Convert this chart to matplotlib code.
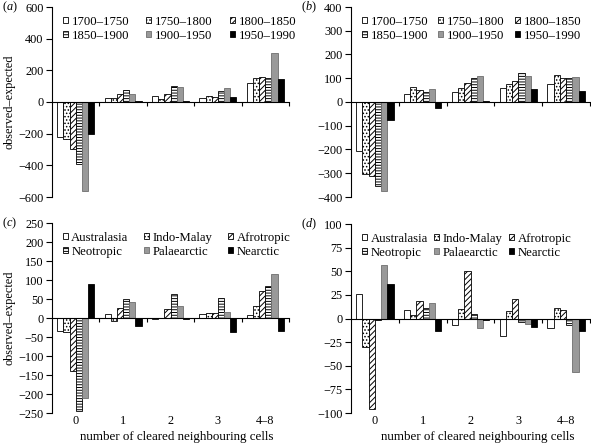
import numpy as np
import matplotlib
matplotlib.use('Agg')
from matplotlib import pyplot as plt

plt.rcParams['font.family'] = ['Liberation Serif', 'DejaVu Serif']
plt.rcParams['font.size'] = 8.8
plt.rcParams['hatch.linewidth'] = 0.7
plt.rcParams['mathtext.fontset'] = 'custom'
plt.rcParams['mathtext.rm'] = 'Liberation Serif'
plt.rcParams['mathtext.it'] = 'Liberation Serif:italic'

groups = ['0', '1', '2', '3', '4–8']
periods = ['1700–1750', '1750–1800', '1800–1850', '1850–1900', '1900–1950', '1950–1990']
regions = ['Australasia', 'Indo-Malay', 'Afrotropic', 'Neotropic', 'Palaearctic', 'Nearctic']

# (a) rows = periods, columns = groups
a_vals = [
    [-220, 28, 40, 27, 120],
    [-235, 28, 21, 38, 152],
    [-295, 53, 49, 34, 160],
    [-390, 78, 104, 68, 150],
    [-560, 49, 97, 87, 310],
    [-200, 4, 8, 30, 148],
]
b_vals = [
    [-208, 34, 44, 60, 76],
    [-305, 62, 60, 76, 115],
    [-311, 52, 80, 90, 100],
    [-355, 41, 103, 122, 100],
    [-376, 56, 110, 108, 106],
    [-75, -25, 6, 53, 48],
]
# (c) rows = regions
c_vals = [
    [-34, 10, -3, 10, 9],
    [-37, -8, 1, 12, 31],
    [-139, 27, 25, 13, 72],
    [-246, 51, 62, 53, 85],
    [-210, 42, 32, 17, 116],
    [90, -22, -2, -37, -33],
]
d_vals = [
    [26, 9, -7, -18, -10],
    [-30, 4, 10, 8, 11],
    [-96, 18, 50, 21, 9],
    [-2, 11, 5, -4, -7],
    [57, 16, -10, -6, -57],
    [36, -13, -2, -9, -13],
]

styles = [
    dict(facecolor='white', edgecolor='black', hatch=None),
    dict(facecolor='white', edgecolor='black', hatch='.....'),
    dict(facecolor='white', edgecolor='black', hatch='//////'),
    dict(facecolor='white', edgecolor='black', hatch='------'),
    dict(facecolor='#999999', edgecolor='#6e6e6e', hatch=None),
    dict(facecolor='black', edgecolor='black', hatch=None),
]


def draw_panel(ax, vals, names, ylim, step, tag, show_x, colsp):
    x = np.arange(len(groups))
    w = 0.13
    for i, (row, name) in enumerate(zip(vals, names)):
        ax.bar(x + (i - 2.5) * w, row, width=w, linewidth=0.6, label=name, **styles[i])
    ax.set_xlim(-0.5, 4.5)
    ax.set_ylim(*ylim)
    ticks = np.arange(ylim[0], ylim[1] + 1, step)
    ax.set_yticks(ticks)
    ax.set_yticklabels([str(v).replace('-', '−') for v in ticks])
    for s in ['top', 'right']:
        ax.spines[s].set_visible(False)
    ax.spines['bottom'].set_position(('data', 0))
    ax.spines['bottom'].set_linewidth(0.8)
    ax.spines['left'].set_linewidth(0.8)
    ax.set_xticks(np.arange(0.5, 5, 1))
    ax.set_xticklabels([])
    ax.tick_params(axis='x', direction='out', length=3, width=0.8)
    ax.tick_params(axis='y', direction='out', length=4, width=0.8, pad=2)
    if show_x:
        for xi, g in zip(x, groups):
            ax.annotate(g, xy=(xi, 0), xycoords=('data', 'axes fraction'),
                        xytext=(0, -5.5), textcoords='offset points', ha='center', va='center')
    pos = ax.get_position()
    fig.text(pos.x0 - 50 / 591, pos.y1, '($\\it{' + tag + '}$)', ha='left', va='center')
    h, l = ax.get_legend_handles_labels()
    order = [0, 3, 1, 4, 2, 5]
    ax.legend([h[k] for k in order], [l[k] for k in order],
              loc='upper left', bbox_to_anchor=(0.045, 0.955), ncol=3, frameon=False,
              fontsize=9.2, handlelength=0.38, handleheight=0.38, handletextpad=0.3,
              columnspacing=colsp, labelspacing=0.18, borderaxespad=0, borderpad=0)


fig = plt.figure(figsize=(5.91, 4.44), dpi=100)
ax_a = fig.add_axes([52 / 591, 1 - 197 / 444, 237 / 591, 190 / 444])
ax_b = fig.add_axes([351 / 591, 1 - 197 / 444, 239 / 591, 190 / 444])
ax_c = fig.add_axes([52 / 591, 1 - 413 / 444, 237 / 591, 190 / 444])
ax_d = fig.add_axes([351 / 591, 1 - 413 / 444, 239 / 591, 189 / 444])

draw_panel(ax_a, a_vals, periods, (-600, 600), 200, 'a', False, 1.35)
draw_panel(ax_b, b_vals, periods, (-400, 400), 100, 'b', False, 0.8)
draw_panel(ax_c, c_vals, regions, (-250, 250), 50, 'c', True, 1.2)
draw_panel(ax_d, d_vals, regions, (-100, 100), 25, 'd', True, 0.5)

ax_a.set_ylabel('observed–expected', labelpad=2)
ax_c.set_ylabel('observed–expected', labelpad=2)
fig.text(177 / 591, 1 - 437 / 444, 'number of cleared neighbouring cells', fontsize=9.4, ha='center', va='center')
fig.text(478 / 591, 1 - 437 / 444, 'number of cleared neighbouring cells', fontsize=9.4, ha='center', va='center')

fig.savefig('out.png', dpi=100)
